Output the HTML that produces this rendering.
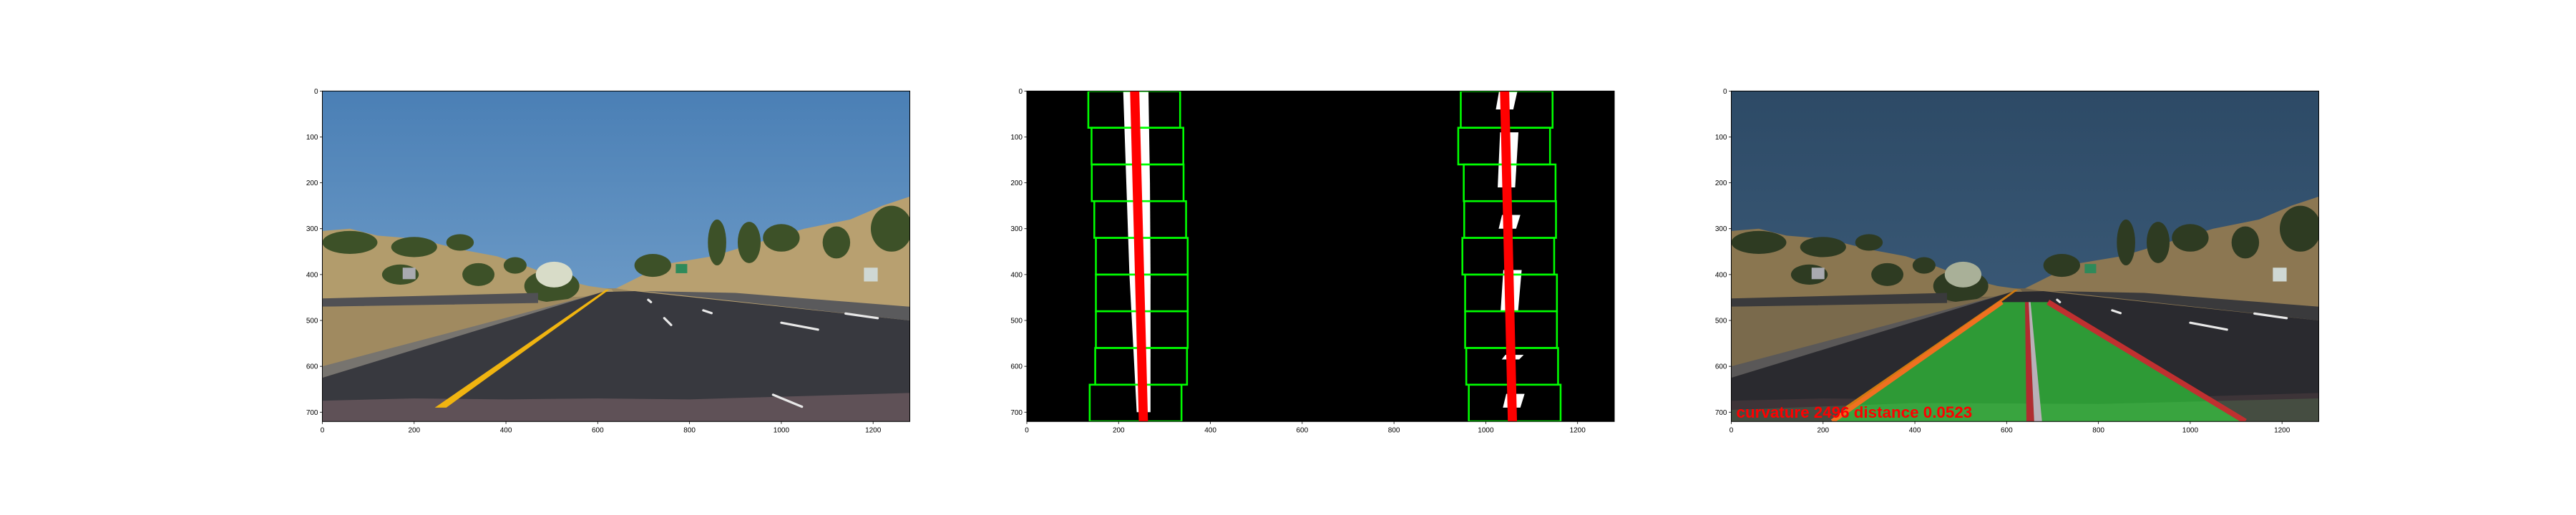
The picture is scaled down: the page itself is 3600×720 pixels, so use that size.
<!DOCTYPE html>
<html><head><meta charset="utf-8"><style>
html,body{margin:0;padding:0;background:#fff;}
svg{display:block;font-family:"Liberation Sans","DejaVu Sans",sans-serif;}
</style></head><body>
<svg id="fig" width="3600" height="720" viewBox="0 0 3600 720" xmlns="http://www.w3.org/2000/svg">
<defs>
<linearGradient id="sky1" x1="0" y1="0" x2="0" y2="1"><stop offset="0" stop-color="#4a7fb5"/><stop offset="1" stop-color="#7fa9d0"/></linearGradient>
<linearGradient id="sky3" x1="0" y1="0" x2="0" y2="1"><stop offset="0" stop-color="#2d4a66"/><stop offset="1" stop-color="#40607e"/></linearGradient>
<clipPath id="clipImg"><rect x="0" y="0" width="1280" height="720"/></clipPath>
</defs>
</svg>
<script>
// ---- data ----
const xTicks = [0,200,400,600,800,1000,1200];
const yTicks = [0,100,200,300,400,500,600,700];
const imgW = 1280, imgH = 720;
const windowRows = [0,80,160,240,320,400,480,560,640];
const leftBoxCenters = [234,241,241.5,247,250.5,250.5,250.5,249,237];
const rightBoxCenters = [1045.5,1040,1052,1053,1049,1055,1055,1057.5,1063];
const leftFit = [235,254];   // x at y=0, y=720
const rightFit = [1041,1058];
const laneTop = 460;
const laneLeftX = [590,220];   // x at y=460, y=720
const laneRightX = [690,1110];
const curvature = 2496, distance = 0.0523;

const panelX = [450.5,1435,2419.5];
const panelY = 127.3, panelW = 821, panelH = 462;
const s = panelW/imgW;
const NS = "http://www.w3.org/2000/svg";
const fig = document.getElementById('fig');

function mk(tag, attrs, parent){
  const e = document.createElementNS(NS, tag);
  for (const k in attrs) e.setAttribute(k, attrs[k]);
  if (parent) parent.appendChild(e);
  return e;
}
function sx(v){ return v*s; }
function sy(v){ return v*s; }

function scene(g, dark){
  g.insertAdjacentHTML('beforeend', `
  <rect x="0" y="0" width="1280" height="720" fill="url(#${dark?'sky3':'sky1'})"/>
  <polygon points="0,430 1280,430 1280,720 0,720" fill="${dark?'#6e6048':'#9a8760'}"/>
  <polygon points="0,305 60,300 120,315 180,320 240,330 300,345 380,360 440,380 520,410 580,425 630,432 640,445 0,470" fill="${dark?'#8a7650':'#b29c6c'}"/>
  <polygon points="640,430 700,400 760,375 850,360 950,330 1050,300 1150,280 1220,250 1280,230 1280,500 700,440" fill="${dark?'#8c7752':'#b8a070'}"/>
  <g fill="${dark?'#2e3b22':'#3d5128'}">
   <ellipse cx="60" cy="330" rx="60" ry="25"/><ellipse cx="200" cy="340" rx="50" ry="22"/><ellipse cx="300" cy="330" rx="30" ry="18"/>
   <ellipse cx="170" cy="400" rx="40" ry="22"/><ellipse cx="340" cy="400" rx="35" ry="25"/><ellipse cx="420" cy="380" rx="25" ry="18"/>
   <ellipse cx="860" cy="330" rx="20" ry="50"/><ellipse cx="930" cy="330" rx="25" ry="45"/><ellipse cx="1000" cy="320" rx="40" ry="30"/>
   <ellipse cx="1120" cy="330" rx="30" ry="35"/><ellipse cx="1240" cy="300" rx="45" ry="50"/><ellipse cx="720" cy="380" rx="40" ry="25"/>
   <ellipse cx="500" cy="425" rx="60" ry="35"/>
  </g>
  <ellipse cx="505" cy="400" rx="40" ry="28" fill="${dark?'#a9b098':'#d8dcc8'}"/>
  <polygon points="0,452 470,440 470,465 0,470" fill="${dark?'#3a3a3c':'#505054'}"/>
  <polygon points="0,470 470,462 560,450 610,440 0,600" fill="${dark?'#7a6a4c':'#a08a60'}"/>
  <polygon points="0,600 605,440 615,440 0,625" fill="${dark?'#5a5858':'#77746f'}"/>
  <polygon points="0,625 610,438 680,436 1280,500 1280,680 0,680" fill="${dark?'#2a2a2f':'#38393f'}"/>
  <polygon points="700,436 900,440 1280,470 1280,500" fill="${dark?'#3a3a3c':'#5a5a5c'}"/>
  <polygon points="0,675 200,670 400,672 600,670 800,672 1280,658 1280,720 0,720" fill="${dark?'#3d3438':'#5f5157'}"/>
  <polygon points="245,690 270,690 625,433 618,433" fill="${dark?'#d07a10':'#f0b410'}"/>
  <g stroke="#e8e8e8" stroke-width="5" stroke-linecap="round">
   <line x1="745" y1="495" x2="760" y2="510"/><line x1="982" y1="662" x2="1045" y2="688"/>
   <line x1="1000" y1="505" x2="1080" y2="520"/><line x1="1140" y1="485" x2="1210" y2="495"/>
   <line x1="830" y1="478" x2="848" y2="484"/><line x1="710" y1="455" x2="716" y2="460"/>
  </g>
  <rect x="770" y="377" width="25" height="20" fill="#2e8a5a"/><rect x="1180" y="385" width="30" height="30" fill="#cfd8d4"/>
  <rect x="175" y="385" width="28" height="25" fill="#a9aab0"/>`);
}

function axes(g, px, idx){
  const fr = mk('rect',{x:px,y:panelY,width:panelW,height:panelH,fill:'none',stroke:'#000','stroke-width':1},g);
  
  
  xTicks.forEach(t=>{
    const x = px + sx(t);
    const tk = mk('line',{x1:x,y1:panelY+panelH,x2:x,y2:panelY+panelH+3.5,stroke:'#000','stroke-width':0.8},g);
    
    
    const tl = mk('text',{x:x,y:panelY+panelH+15,'font-size':10,'text-anchor':'middle',fill:'#000'},g);
    tl.textContent = t;
    
    
  });
  yTicks.forEach(t=>{
    const y = panelY + sy(t);
    const tk = mk('line',{x1:px-3.5,y1:y,x2:px,y2:y,stroke:'#000','stroke-width':0.8},g);
    
    
    const tl = mk('text',{x:px-6,y:y+3.5,'font-size':10,'text-anchor':'end',fill:'#000'},g);
    tl.textContent = t;
    
    
  });
}

// ---- panel 1 ----
const p1 = mk('g',{},fig);


const i1 = mk('g',{transform:`translate(${panelX[0]},${panelY}) scale(${s})`,'clip-path':'url(#clipImg)'},p1);
scene(i1,false);
axes(p1,panelX[0],0);

// ---- panel 2 ----
const p2 = mk('g',{},fig);


const i2 = mk('g',{transform:`translate(${panelX[1]},${panelY}) scale(${s})`,'clip-path':'url(#clipImg)'},p2);
mk('rect',{x:0,y:0,width:imgW,height:imgH,fill:'#000'},i2);
function fitX(fit,y){ return fit[0] + (fit[1]-fit[0])*y/imgH; }
const lp = mk('polygon',{points:`${fitX(leftFit,0)-25},0 ${fitX(leftFit,0)+30},0 ${fitX(leftFit,200)+28},200 ${fitX(leftFit,400)+24},400 ${fitX(leftFit,700)+16},700 ${fitX(leftFit,700)-14},700 ${fitX(leftFit,400)-22},400`,fill:'#fff'},i2);


const rightBlobs = [[0,40],[90,210],[270,300],[390,480],[575,585],[660,690]];
rightBlobs.forEach(b=>{
  const y0=b[0], y1=b[1];
  const e = mk('polygon',{points:`${fitX(rightFit,y0)-12},${y0} ${fitX(rightFit,y0)+28},${y0} ${fitX(rightFit,y1)+18},${y1} ${fitX(rightFit,y1)-20},${y1}`,fill:'#fff'},i2);
  
  
});
[[leftBoxCenters,'left'],[rightBoxCenters,'right']].forEach(([arr,side])=>{
  arr.forEach((c,i)=>{
    const r = mk('rect',{x:c-100,y:windowRows[i],width:200,height:80,fill:'none',stroke:'#00ff00','stroke-width':4},i2);
    
    
  });
});
[[leftFit,'left'],[rightFit,'right']].forEach(([f,side])=>{
  const l = mk('line',{x1:f[0],y1:0,x2:f[1],y2:imgH,stroke:'#ff0000','stroke-width':20},i2);
  
  
});
axes(p2,panelX[1],1);

// ---- panel 3 ----
const p3 = mk('g',{},fig);


const i3 = mk('g',{transform:`translate(${panelX[2]},${panelY}) scale(${s})`,'clip-path':'url(#clipImg)'},p3);
scene(i3,true);
const lane = mk('polygon',{points:`${laneLeftX[0]},${laneTop} ${laneRightX[0]},${laneTop} ${laneRightX[1]},${imgH} ${laneLeftX[1]},${imgH}`,fill:'#2e9a36'},i3);


mk('polygon',{points:`0,${imgH} 0,695 400,680 800,682 1280,670 1280,${imgH}`,fill:'rgba(120,220,120,0.15)'},i3);
const ol = mk('line',{x1:laneLeftX[0],y1:laneTop,x2:laneLeftX[1],y2:imgH,stroke:'#f07020','stroke-width':10},i3);


const rl = mk('line',{x1:laneRightX[0],y1:laneTop,x2:laneRightX[1]+10,y2:imgH,stroke:'#c03030','stroke-width':12},i3);


const cl = mk('polygon',{points:`640,${laneTop} 648,${laneTop} 660,${imgH} 643,${imgH}`,fill:'#b02c30'},i3);


mk('polygon',{points:`648,${laneTop} 652,${laneTop} 677,${imgH} 660,${imgH}`,fill:'#b8b0b8'},i3);
const txt = mk('text',{x:11,y:712,'font-size':34,'font-weight':'bold',fill:'#ff0000',textLength:514,lengthAdjust:'spacingAndGlyphs'},i3);
txt.textContent = `curvature ${curvature} distance ${distance}`;


axes(p3,panelX[2],2);
</script>
</body></html>
